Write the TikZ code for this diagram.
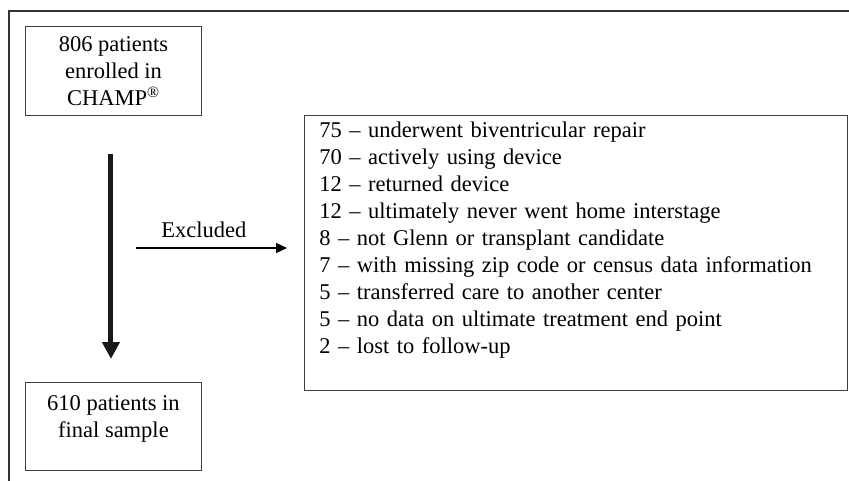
\documentclass[tikz,border=0pt]{standalone}
\usepackage{fontspec}
\setmainfont{Liberation Serif}
\usetikzlibrary{arrows.meta, positioning, calc}
\tikzstyle{arrow} = [-{Triangle[length=11pt,width=10pt]}, line width=1.1pt]

\begin{document}
\begin{tikzpicture}[
  x=1pt, y=-1pt,
  font=\fontsize{22.5}{27}\selectfont,
  box/.style={draw=black!75, line width=0.9pt, minimum width=176pt, minimum height=89pt, align=center, inner sep=2pt},
  listbox/.style={draw=black!75, line width=0.9pt, text width=513pt, inner xsep=15pt, inner ysep=3pt, minimum height=275pt, align=left},
  flow/.style={-{Triangle[length=17pt,width=17pt]}, line width=5pt, black!90}
]
\useasboundingbox (0,0) rectangle (849,481);

% Frame (top and left edge)
\draw[black!80, line width=1.5pt] (849,11) -- (9,11) -- (9,481);

% Patient boxes (left)
\node[box, anchor=north west] (enrolled) at (25,26) {806 patients\\enrolled in\\CHAMP\textsuperscript{\textregistered}};
\node[box, anchor=north west, minimum height=88pt, text depth=20pt] (final) at (25,382) {610 patients in\\final sample};

\draw[flow] ([xshift=-2.5pt,yshift=-38pt]enrolled.south) -- ([xshift=-2.5pt,yshift=23pt]final.north);

% Exclusion list (right)
\node[listbox, anchor=north west, text height=15pt, text depth=245pt] (excluded) at (304,115) {75 -- underwent biventricular repair\\
70 -- actively using device\\
12 -- returned device\\
12 -- ultimately never went home interstage\\
8 -- not Glenn or transplant candidate\\
7 -- with missing zip code or census data information\\
5 -- transferred care to another center\\
5 -- no data on ultimate treatment end point\\
2 -- lost to follow-up};

\coordinate (split) at (136,248);
\draw[arrow] (split) -- ($(split -| excluded.west)+(-17,0)$)
  node[pos=0.45, above=10pt, inner sep=0pt] (exlabel) {Excluded};

\end{tikzpicture}
\end{document}
